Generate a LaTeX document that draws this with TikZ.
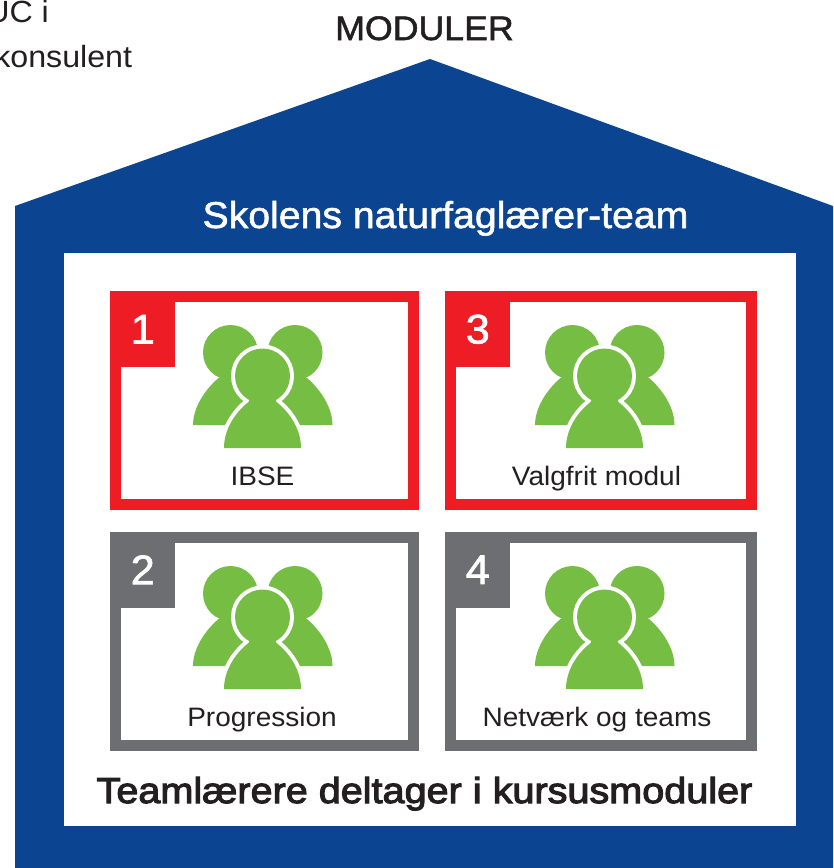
\documentclass[tikz,border=0pt]{standalone}
\usepackage{fontspec}
\setmainfont{Liberation Sans}
\newfontfamily\labelfont[FakeStretch=1.05]{Liberation Sans}
\newfontfamily\mediumfont[FakeStretch=1.05,FakeBold=1.5]{Liberation Sans}
\newfontfamily\strongfont[FakeStretch=1.1,FakeBold=3]{Liberation Sans}
\definecolor{houseblue}{HTML}{0B4592}
\definecolor{panelred}{HTML}{EE1C25}
\definecolor{panelgrey}{HTML}{6D6E71}
\definecolor{peoplegreen}{HTML}{76BD44}
\definecolor{textblack}{HTML}{231F20}
\tikzset{
	panelbox/.style={draw=#1,fill=white,line width=8.25pt,minimum height=156pt,inner sep=0pt},
	leftpanel/.style={minimum width=223.5pt},
	rightpanel/.style={minimum width=225.75pt},
	badge/.style={fill=#1,text=white,minimum width=48.75pt,minimum height=57pt,inner sep=0pt,font=\fontsize{31}{31}\mediumfont,anchor=north west},
	panellabel/.style={text=textblack,inner sep=0pt,anchor=base,font=\fontsize{20}{20}\labelfont},
	cornertext/.style={text=textblack,inner sep=0pt,anchor=base west,font=\fontsize{23}{23}\labelfont},
	people/.pic={
		\fill[peoplegreen] (-32,-23.5) circle[radius=27.5];
		\fill[peoplegreen] (32.5,-23.5) circle[radius=27.5];
		\fill[peoplegreen] (-44,2) .. controls (-58,14) and (-69.5,32) .. (-69.5,49) -- (-10,49) -- (-10,2) -- cycle;
		\fill[peoplegreen] (44.5,2) .. controls (58.5,14) and (70,32) .. (70,49) -- (10,49) -- (10,2) -- cycle;
		\draw[white,line width=6pt] (0,0) circle[radius=27.5];
		\draw[white,line width=6pt] (-14,26) .. controls (-28,37) and (-38.5,54) .. (-38.5,72) -- (38.5,72) .. controls (38.5,54) and (28,37) .. (14,26) -- cycle;
		\fill[peoplegreen] (0,0) circle[radius=27.5];
		\fill[peoplegreen] (-14,26) .. controls (-28,37) and (-38.5,54) .. (-38.5,72) -- (38.5,72) .. controls (38.5,54) and (28,37) .. (14,26) -- (8,12) -- (-8,12) -- cycle;
	}
}

\begin{document}
\begin{tikzpicture}[x=0.75pt,y=-0.75pt]
	\clip (0,0) rectangle (833,868);
	\fill[white] (0,0) rectangle (833,868);

	\node[cornertext] (ucline) at (-14,22) {UC i};
	\node[cornertext] (konsulent) at (-6,67) {konsulent};
	\node[text=textblack,inner sep=0pt,anchor=base,font=\fontsize{25.5}{25.5}\mediumfont] (moduler) at (424.5,40) {MODULER};

	\fill[houseblue] (15,206) -- (430,59) -- (833,206) -- (833,868) -- (15,868) -- cycle;
	\fill[white] (64,253) rectangle (796,826);

	\node[text=white,inner sep=0pt,anchor=base,font=\fontsize{28}{28}\mediumfont] (team) at (445.5,228) {Skolens naturfaglærer-team};
	\node[text=textblack,inner sep=0pt,anchor=base,font=\fontsize{27}{27}\strongfont] (kursus) at (424.5,803) {Teamlærere deltager i kursusmoduler};

	\node[panelbox=panelred,leftpanel] (ibse) at (264.75,400.5) {};
	\node[panelbox=panelred,rightpanel] (valgfrit) at (600.75,400.5) {};
	\node[panelbox=panelgrey,leftpanel] (progression) at (264.75,641) {};
	\node[panelbox=panelgrey,rightpanel] (netvaerk) at (600.75,641) {};

	\node[badge=panelred] (one) at (110,291) {\raisebox{-3.5pt}{1}};
	\node[badge=panelred] (three) at (445,291) {\raisebox{-3.5pt}{3}};
	\node[badge=panelgrey] (two) at (110,531.5) {\raisebox{-3.5pt}{2}};
	\node[badge=panelgrey] (four) at (445,531.5) {\raisebox{-3.5pt}{4}};

	\pic at (262.5,376) {people};
	\pic at (604.5,376) {people};
	\pic at (262.5,617) {people};
	\pic at (604.5,617) {people};

	\node[panellabel] (ibselabel) at (262.5,485) {IBSE};
	\node[panellabel] (valgfritlabel) at (596.5,485) {Valgfrit modul};
	\node[panellabel] (progressionlabel) at (262,726) {Progression};
	\node[panellabel] (netvaerklabel) at (597,726) {Netværk og teams};
\end{tikzpicture}
\end{document}
